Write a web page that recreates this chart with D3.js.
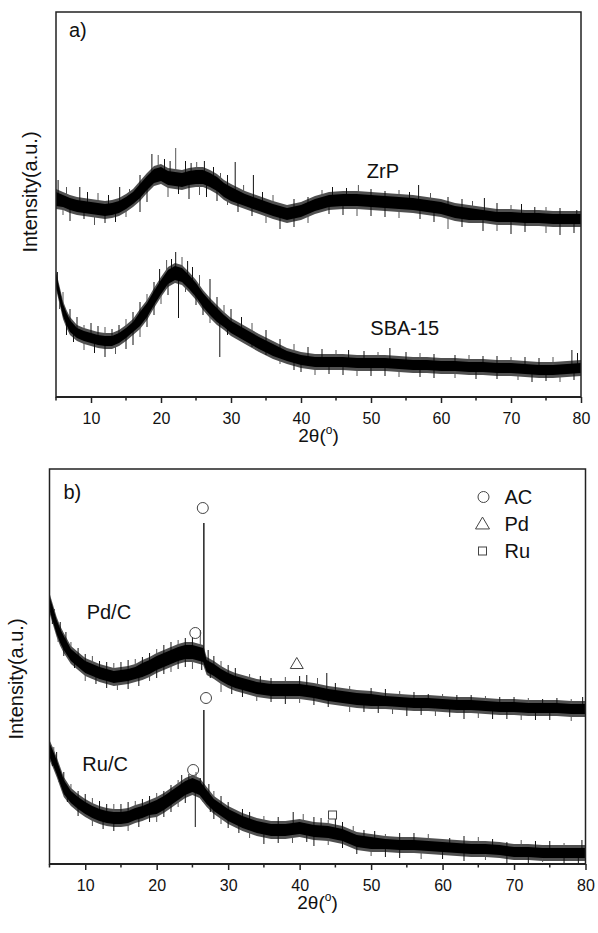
<!DOCTYPE html>
<html>
<head>
<meta charset="utf-8">
<script src="https://cdnjs.cloudflare.com/ajax/libs/d3/7.8.5/d3.min.js"></script>
<style>
  body { margin: 0; background: #fff; }
  svg { display: block; }
  text { font-family: Arial, "Liberation Sans", sans-serif; fill: #111; }
</style>
</head>
<body>
<div id="chart"></div>
<script>
// XRD patterns. Intensity is in arbitrary units (a.u.)
// Panel a) ZrP and SBA-15
const zrpTheta = [5,6,7,8,9,10,11,12,13,14,15,16,17,18,19,20,21,22,23,24,25,26,27,28,29,30,32,34,36,38,40,42,44,46,48,50,52,54,56,58,60,62,64,66,68,70,72,74,76,78,80];
const zrpInt   = [198,196,193,191,190,189,188,187,188,190,194,199,206,214,221,223,219,218,217,219,220,220,217,213,207,203,197,192,187,183,186,192,196,197,197,196,195,194,193,191,189,185,183,182,180,180,179,179,178,178,178];
const zrpNoise = [8,7,7,7,7,7,7,7,7,7,7,7, 8,8,8,8,8,8,8,8,8,8,8,8,8,8, 7,7,7,7,7,7,7,7,7,7,7,7,7,7,7,7,7, 6,6,6,6,6,6,6,6];
const zrpUp    = [[5.3,217],[6.5,210],[8.4,210],[9.5,205],[11,204],[12.5,202],[14.1,210],[15.5,208],[17,222],[18.7,243],[19.6,242],[20.5,238],[21.3,236],[22.1,249],[23.5,236],[24.3,234],[25.1,235],[26.2,236],[27.5,230],[28.5,224],[29.5,222],[30.6,235],[31.8,212],[33.2,222],[34.5,205],[36,202],[39,198],[41,200],[43,207],[44.5,210],[46.5,209],[48.2,212],[50,208],[52,206],[54,207],[55.5,205],[56.8,212],[58.5,204],[61,200],[63,198],[64.5,196],[66.2,199],[68,194],[70,192],[71.5,193],[73.4,190],[75,190],[77,189],[79.4,187]];
const zrpDown  = [[6,182],[7,176],[9,178],[10.5,172],[12,174],[13.5,175],[15,180],[17,185],[18,195],[21,200],[22.5,203],[24,198],[25.5,202],[26.5,200],[28,196],[29.5,192],[31,185],[33,181],[35,174],[37,168],[39,170],[41,174],[44,183],[46,182],[48,181],[50,181],[52,180],[54,179],[57,178],[59,175],[61,168],[63,170],[66,166],[68,166],[70,163],[72,165],[75,164],[77,162],[79,164]];

const sbaTheta = [5,5.5,6,6.5,7,8,9,10,11,12,13,14,15,16,17,18,19,20,21,22,23,24,25,26,27,28,29,30,32,34,36,38,40,42,44,46,48,50,52,54,56,58,60,62,64,66,68,70,72,74,76,78,80];
const sbaInt   = [117,102,87,78,71,64,61,59,57,56,56,59,64,70,78,87,99,110,120,124,122,115,107,97,89,82,76,70,62,54,47,41,37,35,35,35,34,34,34,33,32,32,31,31,30,30,29,29,28,27,27,28,29];
const sbaNoise = [7,7,7,7,7, 6,6,6,6,6,6,6,6,6, 8,8,8,8,8,8,8,8,8,8,8,8, 7,7,7,7,7, 6,6,6,6,6,6,6,6,6,6,6,6,6,6,6,6,6,6,6,6,6,6];
const sbaUp    = [[5.2,125],[6,105],[7,88],[8,80],[9,72],[10,74],[11,71],[12,70],[13,68],[14,72],[15,78],[16,85],[17,95],[18,103],[19,115],[19.8,128],[20.8,137],[21.5,138],[22.1,145],[23,140],[23.8,136],[24.5,130],[25.5,122],[27,118],[28,100],[29,92],[30,88],[31.5,80],[33,74],[35,67],[37,58],[39,53],[41,50],[43,48],[45,47],[46.8,47],[49,46],[51,45],[52.7,49],[55,45],[57,44],[59,43],[62,42],[64,42],[66,41],[68,41],[70,40],[72,40],[74,39],[76,40],[78.7,47],[79.5,44]];
const sbaDown  = [[5.5,88],[6.5,62],[7.5,55],[9,47],[10.5,44],[12,40],[13.5,43],[15,48],[16,52],[17,60],[18,70],[19,82],[20,93],[21,102],[22.5,79],[23.5,105],[25,92],[26,82],[27,74],[28.4,40],[29.5,62],[31,58],[33,50],[35,42],[37,33],[39,27],[40,25],[42,22],[44,23],[46,22],[48,21],[50,21],[52,21],[54,20],[57,20],[59,19],[62,19],[65,18],[68,18],[71,17],[73,15],[75,16],[77,15],[79,17]];

// Panel b) Pd/C and Ru/C
const pdTheta = [5,5.5,6,6.5,7,8,9,10,11,12,13,14,15,16,17,18,19,20,21,22,23,24,25,26,26.5,27,28,29,30,31,32,34,36,38,40,42,44,46,48,50,52,54,56,58,60,62,64,66,68,70,72,74,76,78,80];
const pdInt   = [261,249,237,228,221,209,203,197,194,191,189,187,188,189,191,194,197,201,204,207,210,212,212,210,209,198,194,189,185,182,180,176,174,174,174,172,169,167,165,164,163,162,161,161,160,159,159,158,157,157,156,156,156,155,155];
const pdNoise = [8,8,8,8,8, 7,7,7,7,7,7,7,7,7,7, 8,8,8,8,8,8,8,8,8,8, 7,7,7,7,7,7,7,7,7,7,7,7,7,7,7, 6,6,6,6,6,6,6,6,6,6,6,6,6,6,6];
const pdUp    = [[5,271],[5.7,255],[6.5,242],[7.3,232],[8,222],[9,216],[10,210],[11,208],[12,203],[13,202],[14,201],[15,202],[16,204],[17,205],[18,207],[19,211],[20,215],[21,219],[22,222],[23,224],[24,226],[25,227],[26.1,234],[27.2,214],[28,208],[29,203],[30,199],[31,196],[33,190],[34.5,188],[36,186],[38,187],[40,188],[41,189],[42.5,186],[43.8,191],[45,181],[47,178],[50,176],[52,175],[54,173],[56,172],[58,170],[60,170],[62,169],[64,169],[66,168],[68,167],[70,167],[72,166],[74,165],[76,166],[78,165],[79.6,167]];
const pdDown  = [[5.4,240],[6.2,222],[7,208],[8.5,196],[10,183],[11.5,180],[13,176],[14.5,174],[16,175],[17.5,178],[19,183],[20,186],[21,190],[22,192],[23,195],[24,197],[25,195],[26.3,194],[27.5,186],[29,172],[30.5,170],[32,167],[34,163],[36,162],[38,160],[40,161],[42,159],[44,157],[47,152],[49,152],[51,151],[53,150],[55,148],[57,149],[59,148],[61,147],[63,145],[65,146],[67,145],[69,145],[71,144],[73,144],[75,144],[78,143],[80,143]];
const pdPeak  = [26.6, 341];

const ruTheta = [5,5.5,6,6.5,7,8,9,10,11,12,13,14,15,16,17,18,19,20,21,22,23,24,25,26,27,28,29,30,32,34,36,38,40,42,44,46,48,50,52,54,56,58,60,62,64,66,68,70,72,74,76,78,80];
const ruInt   = [114,106,97,87,77,67,61,56,52,49,47,46,46,47,50,52,55,57,61,66,71,76,79,76,67,59,54,49,42,37,34,34,36,33,32,29,23,21,20,19,19,18,17,16,15,15,14,12,12,11,11,11,11];
const ruNoise = [8,8,8,8,8, 7,7,7,7,7,7,7,7,7,7,7,7, 8,8,8,8,8,8,8,8, 7,7,7,7,7,7,7,7,7,7,7,7,7, 6,6,6,6,6,6,6,6,6,6,6,6,6,6,6];
const ruUp    = [[5,125],[5.6,117],[6,112],[7,92],[8,80],[9,73],[10,70],[11,66],[12,63],[13,60],[14,60],[15,60],[16,62],[17,63],[18,65],[19,68],[20,71],[21,73],[22,79],[23,84],[23.5,89],[24.5,90],[25.5,92],[26.1,86],[27.3,80],[28,73],[29,68],[30,62],[31,47],[32,55],[33,52],[35,48],[37,47],[39.1,52],[40.5,50],[42,47],[43,46],[44,44],[45,45],[46,42],[47.5,38],[49,34],[50.5,33],[52,30],[54,31],[56,31],[58,30],[61,26],[63,28],[65,27],[67,25],[69,22],[71,24],[73,23],[75,23],[77,21],[79.5,24]];
const ruDown  = [[5.4,98],[6.3,82],[7.5,62],[9,48],[11,38],[12.5,35],[14,33],[16,33],[17.5,37],[19,42],[20,42],[21,47],[22,52],[23,57],[24,61],[25.4,37],[26.5,62],[27.5,52],[28,45],[29,40],[30,36],[31.5,31],[33,26],[35,20],[37,21],[39,21],[41,22],[42,18],[44,19],[46,16],[48,10],[50,8],[52,7],[54,6],[57,5],[60,5],[63,3],[66,4],[69,1],[72,0],[74,2],[77,0],[79,0]];
const ruPeak  = [26.6, 154];

// phase markers [2theta, intensity]
const acMarks = [[26.45,356],[25.4,231],[26.9,166],[25.1,94]];
const pdMarks = [[39.6,201]];
const ruMarks = [[44.6,49]];

const majorTicks = [10,20,30,40,50,60,70,80];
const minorTicks = [5,15,25,35,45,55,65,75];

const W = 598, H = 933;
const svg = d3.select('#chart').append('svg').attr('width', W).attr('height', H);

function triPath(cx, cy, w){
  const h = w*0.85;
  return `M${cx},${cy-h/2}L${cx+w/2},${cy+h/2}L${cx-w/2},${cy+h/2}Z`;
}

function drawPanel(p, traces){
  const x = d3.scaleLinear().domain([5,80]).range([p.left, p.right]);
  const y = d3.scaleLinear().domain([0,p.yMax]).range([p.bottom, p.top]);
  const g = svg.append('g');

  traces.forEach(t=>{
    const pts = t.theta.map((th,i)=>({th, v:t.int[i], n:t.noise[i]}));
    const centre = d3.scaleLinear().domain(t.theta).range(t.int);

    // soft outer edge, then spikes, then the dense core
    const outer = d3.area().x(d=>x(d.th)).y0(d=>y(d.v-d.n-2)).y1(d=>y(d.v+d.n+2));
    g.append('path').datum(pts).attr('d',outer).attr('fill','#505050');

    g.selectAll(null).data(t.up.concat(t.down)).enter().append('line')
      .attr('x1',d=>x(d[0])).attr('x2',d=>x(d[0]))
      .attr('y1',d=>y(centre(d[0]))).attr('y2',d=>y(d[1]))
      .attr('stroke',(d,i)=>i%3===1?'#555':'#111').attr('stroke-width',1);

    const core = d3.area().x(d=>x(d.th)).y0(d=>y(d.v-d.n+1)).y1(d=>y(d.v+d.n-1));
    g.append('path').datum(pts).attr('d',core).attr('fill','#000');

    if (t.peak){
      g.append('line')
        .attr('x1',x(t.peak[0])).attr('x2',x(t.peak[0]))
        .attr('y1',y(centre(t.peak[0]))).attr('y2',y(t.peak[1]))
        .attr('stroke','#000').attr('stroke-width',1.3);
    }
    g.append('text').attr('x',x(t.label[0])).attr('y',y(t.label[1]))
      .attr('font-size',20).text(t.name);
  });

  // frame
  g.append('rect').attr('x',p.left).attr('y',p.top)
    .attr('width',p.right-p.left).attr('height',p.bottom-p.top)
    .attr('fill','none').attr('stroke','#222').attr('stroke-width',1.5);
  g.append('line').attr('x1',p.left).attr('x2',p.right).attr('y1',p.bottom).attr('y2',p.bottom)
    .attr('stroke','#222').attr('stroke-width',2);

  const ax = g.append('g').attr('transform',`translate(0,${p.bottom})`)
    .call(d3.axisBottom(x).tickValues(majorTicks).tickSize(6).tickPadding(10).tickFormat(d3.format('d')));
  ax.select('.domain').remove();
  ax.selectAll('.tick line').attr('stroke','#222').attr('stroke-width',1.5);
  ax.selectAll('.tick text').attr('font-size',16).attr('fill','#111')
    .attr('font-family','Arial, "Liberation Sans", sans-serif');
  g.selectAll(null).data(minorTicks).enter().append('line')
    .attr('x1',d=>x(d)).attr('x2',d=>x(d)).attr('y1',p.bottom).attr('y2',p.bottom+3.5)
    .attr('stroke','#222').attr('stroke-width',1.5);

  const xt = g.append('text').attr('x',(p.left+p.right)/2).attr('y',p.bottom+45)
    .attr('text-anchor','middle').attr('font-size',19);
  xt.append('tspan').text('2θ(');
  xt.append('tspan').attr('font-size',12).attr('dy',-8).text('o');
  xt.append('tspan').attr('dy',8).text(')');

  g.append('text').attr('transform',`translate(${p.yTitleX},${p.yTitleY}) rotate(-90)`)
    .attr('text-anchor','middle').attr('font-size',20).text('Intensity(a.u.)');

  g.append('text').attr('x',p.left+p.tagDx).attr('y',p.top+p.tagDy)
    .attr('font-size',20).text(p.tag);

  return {x, y, g};
}

const panelA = {left:56, right:581, top:12, bottom:397, yMax:385,
  yTitleX:36.5, yTitleY:192, tag:'a)', tagDx:13, tagDy:25};
const panelB = {left:49.5, right:585.5, top:469, bottom:864, yMax:395,
  yTitleX:23, yTitleY:679, tag:'b)', tagDx:14, tagDy:30};

drawPanel(panelA, [
  {name:'ZrP', theta:zrpTheta, int:zrpInt, noise:zrpNoise, up:zrpUp, down:zrpDown, label:[49.4,219]},
  {name:'SBA-15', theta:sbaTheta, int:sbaInt, noise:sbaNoise, up:sbaUp, down:sbaDown, label:[49.9,62]}
]);

const b = drawPanel(panelB, [
  {name:'Pd/C', theta:pdTheta, int:pdInt, noise:pdNoise, up:pdUp, down:pdDown, peak:pdPeak, label:[10.2,245]},
  {name:'Ru/C', theta:ruTheta, int:ruInt, noise:ruNoise, up:ruUp, down:ruDown, peak:ruPeak, label:[9.6,93]}
]);

// phase markers
b.g.selectAll(null).data(acMarks).enter().append('circle')
  .attr('cx',d=>b.x(d[0])).attr('cy',d=>b.y(d[1])).attr('r',5.5)
  .attr('fill','none').attr('stroke','#444').attr('stroke-width',1);
b.g.selectAll(null).data(pdMarks).enter().append('path')
  .attr('d',d=>triPath(b.x(d[0]),b.y(d[1]),13))
  .attr('fill','none').attr('stroke','#444').attr('stroke-width',1);
b.g.selectAll(null).data(ruMarks).enter().append('rect')
  .attr('x',d=>b.x(d[0])-4).attr('y',d=>b.y(d[1])-4).attr('width',8).attr('height',8)
  .attr('fill','none').attr('stroke','#444').attr('stroke-width',1);

// legend
const lx = panelB.left + 434, ly = panelB.top;
const lg = svg.append('g');
lg.append('circle').attr('cx',lx).attr('cy',ly+28).attr('r',5.5)
  .attr('fill','none').attr('stroke','#444');
lg.append('path').attr('d',triPath(lx-1,ly+54,14)).attr('fill','none').attr('stroke','#444');
lg.append('rect').attr('x',lx-5).attr('y',ly+78).attr('width',8).attr('height',8)
  .attr('fill','none').attr('stroke','#444');
[['AC',34.5],['Pd',61.5],['Ru',88.5]].forEach(([t,dy])=>{
  lg.append('text').attr('x',lx+21).attr('y',ly+dy).attr('font-size',20).text(t);
});
</script>
</body>
</html>
